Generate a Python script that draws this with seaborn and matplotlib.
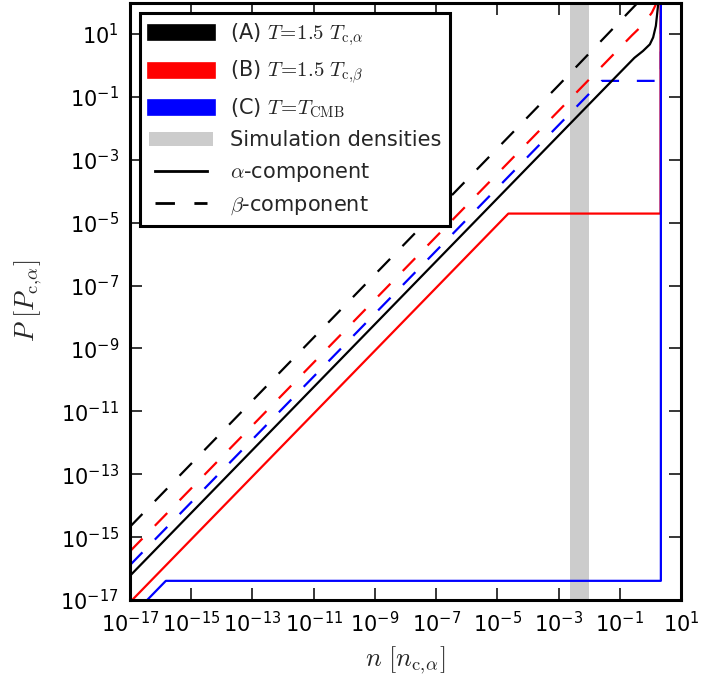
import numpy as np
import pandas as pd
import matplotlib
matplotlib.use("Agg")
import matplotlib.pyplot as plt
import seaborn as sns
from matplotlib.lines import Line2D
from matplotlib.patches import Patch
from matplotlib.ticker import FixedLocator, FixedFormatter, NullLocator

# ---------------- data ----------------
# (A) T = 1.5 T_c,alpha
nA_alpha = [1e-17, 1e-2, 0.3, 0.575, 0.96, 1.23, 1.51, 1.68, 1.82, 1.86]
PA_alpha = [5.9e-17, 5.9e-2, 1.75, 2.9, 4.7, 7.8, 18.2, 47.9, 100.0, 150.0]
nA_beta = [1e-17, 1e-3, 0.39, 0.45]
PA_beta = [2.14e-15, 0.234, 100.0, 130.0]

# (B) T = 1.5 T_c,beta
nB_alpha = [1e-17, 2.29e-5, 2.15, 2.15]
PB_alpha = [8.5e-18, 1.95e-5, 1.95e-5, 1e3]
nB_beta = [1e-17, 1e-2, 0.25, 0.59, 0.79, 1.12, 1.61, 1.78]
PB_beta = [3.55e-16, 0.36, 9.1, 20.4, 30.2, 47.9, 100.0, 126.0]

# (C) T = T_CMB
nC_alpha = [1e-17, 1.48e-16, 2.2, 2.2]
PC_alpha = [2.75e-18, 4.07e-17, 4.07e-17, 1e3]
nC_beta = [1e-17, 2.57e-2, 2.2, 2.2]
PC_beta = [1.29e-16, 0.324, 0.324, 1e3]

# simulation density range
sim_range = [2.4e-3, 9.8e-3]

x_ticks = [1e-17, 1e-15, 1e-13, 1e-11, 1e-9, 1e-7, 1e-5, 1e-3, 1e-1, 1e1]
x_tick_labels = [r"$\mathdefault{10^{-17}}$", r"$\mathdefault{10^{-15}}$",
                 r"$\mathdefault{10^{-13}}$", r"$\mathdefault{10^{-11}}$",
                 r"$\mathdefault{10^{-9}}$", r"$\mathdefault{10^{-7}}$",
                 r"$\mathdefault{10^{-5}}$", r"$\mathdefault{10^{-3}}$",
                 r"$\mathdefault{10^{-1}}$", r"$\mathdefault{10^{1}}$"]
y_ticks = [1e-17, 1e-15, 1e-13, 1e-11, 1e-9, 1e-7, 1e-5, 1e-3, 1e-1, 1e1]
y_tick_labels = list(x_tick_labels)

legend_labels = [r"(A) $T\!=\!1.5\ T_{\rm c,\!\alpha}$",
                 r"(B) $T\!=\!1.5\ T_{\rm c,\!\beta}$",
                 r"(C) $T\!=\!T_{\rm CMB}$",
                 "Simulation densities",
                 r"$\alpha$-component",
                 r"$\beta$-component"]

# ---------------- style ----------------
sns.set_style("ticks")
plt.rcParams.update({
    "font.family": ["DejaVu Sans"],
    "mathtext.fontset": "cm",
    "font.size": 15,
    "axes.linewidth": 2.2,
    "lines.solid_capstyle": "projecting",
})

fig = plt.figure(figsize=(7.24, 6.84), dpi=100)
ax = fig.add_axes([0.1796, 0.1228, 0.7610, 0.8734])
ax.set_xscale("log")
ax.set_yscale("log")

band_color = "#cccccc"
ax.axvspan(sim_range[0], sim_range[1], color=band_color, lw=0, zorder=0)

dash = (0, (8, 8))
lw = 1.6
series = [
    (nA_beta, PA_beta, "k", dash),
    (nB_beta, PB_beta, "r", dash),
    (nC_beta, PC_beta, "b", dash),
    (nA_alpha, PA_alpha, "k", "-"),
    (nB_alpha, PB_alpha, "r", "-"),
    (nC_alpha, PC_alpha, "b", "-"),
]
for xs, ys, c, ls in series:
    df = pd.DataFrame({"n": xs, "P": ys})
    sns.lineplot(data=df, x="n", y="P", sort=False, estimator=None,
                 color=c, linewidth=lw, linestyle=ls, ax=ax, legend=False)

ax.set_xlim(1e-17, 1e1)
ax.set_ylim(1e-17, 1e2)

ax.xaxis.set_major_locator(FixedLocator(x_ticks))
ax.xaxis.set_major_formatter(FixedFormatter(x_tick_labels))
ax.yaxis.set_major_locator(FixedLocator(y_ticks))
ax.yaxis.set_major_formatter(FixedFormatter(y_tick_labels))
ax.xaxis.set_minor_locator(NullLocator())
ax.yaxis.set_minor_locator(NullLocator())
ax.tick_params(which="major", direction="in", length=8.4, width=1.1,
               top=True, right=True, pad=8, labelsize=15, colors="k")
for s in ax.spines.values():
    s.set_linewidth(2.2)
    s.set_color("k")

ax.set_xlabel(r"$n\ [n_{\rm c,\!\alpha}]$", fontsize=19, labelpad=6)
ax.set_ylabel(r"$P\ [P_{\rm c,\!\alpha}]$", fontsize=19, labelpad=12)

handles = [
    Line2D([], [], color="k", lw=12),
    Line2D([], [], color="r", lw=12),
    Line2D([], [], color="b", lw=12),
    Patch(facecolor=band_color, edgecolor="none"),
    Line2D([], [], color="k", lw=2),
    Line2D([], [], color="k", lw=2, linestyle=(0, (7, 7))),
]
leg = ax.legend(handles, legend_labels, loc="upper left", fontsize=15,
                numpoints=2, handlelength=3.1, handletextpad=0.8,
                borderpad=0.42, labelspacing=0.5, borderaxespad=0.48,
                fancybox=False, framealpha=1, edgecolor="k")
leg.get_frame().set_linewidth(2.2)

fig.savefig("out.png", dpi=100)
